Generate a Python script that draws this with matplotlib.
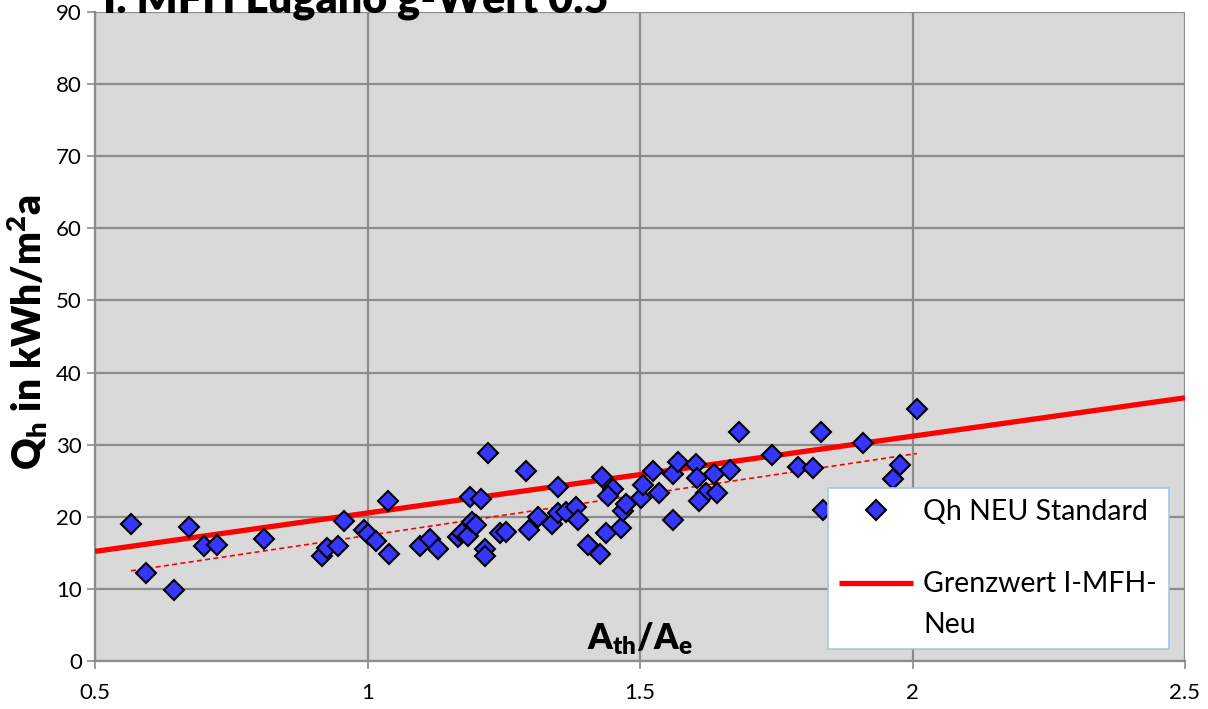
import numpy as np
import matplotlib
matplotlib.use("Agg")
import matplotlib.pyplot as plt
from matplotlib.legend_handler import HandlerLine2D

plt.rcParams["font.family"] = ["Lato", "DejaVu Sans"]
plt.rcParams["mathtext.fontset"] = "custom"
plt.rcParams["mathtext.rm"] = "Lato"
plt.rcParams["mathtext.bf"] = "Lato:weight=heavy"
plt.rcParams["mathtext.it"] = "Lato:italic"

# ----------------------------
# Data
# ----------------------------
ath_ae = [
    0.566, 0.594, 0.645, 0.672, 0.700, 0.724, 0.810, 0.917, 0.926, 0.946,
    0.957, 0.994, 1.000, 1.016, 1.039, 1.038, 1.096, 1.115, 1.129, 1.166,
    1.173, 1.184, 1.188, 1.192, 1.199, 1.208, 1.216, 1.216, 1.221, 1.243,
    1.254, 1.291, 1.296, 1.313, 1.339, 1.350, 1.349, 1.365, 1.383, 1.386,
    1.405, 1.427, 1.430, 1.451, 1.441, 1.438, 1.465, 1.469, 1.475, 1.501,
    1.505, 1.524, 1.535, 1.560, 1.569, 1.560, 1.603, 1.604, 1.635, 1.621,
    1.609, 1.641, 1.665, 1.682, 1.742, 1.790, 1.817, 1.832, 1.836, 1.910,
    1.965, 1.977, 2.008,
]
qh = [
    19.0, 12.2, 9.8, 18.6, 16.0, 16.1, 16.9, 14.6, 15.7, 16.0,
    19.4, 18.2, 17.6, 16.6, 14.8, 22.2, 16.0, 16.9, 15.5, 17.2,
    17.8, 17.3, 22.7, 19.3, 18.8, 22.5, 15.5, 14.6, 28.8, 17.8,
    17.9, 26.4, 18.2, 20.0, 19.0, 24.1, 20.5, 20.7, 21.4, 19.6,
    16.1, 14.9, 25.5, 23.8, 22.9, 17.7, 18.5, 20.8, 21.8, 22.6,
    24.4, 26.3, 23.3, 25.9, 27.6, 19.5, 27.3, 25.4, 26.0, 23.3,
    22.2, 23.3, 26.5, 31.8, 28.6, 26.9, 26.7, 31.8, 20.9, 30.2,
    25.3, 27.2, 35.0,
]

# limit line "Grenzwert I-MFH-Neu"
limit_x = [0.5, 2.5]
limit_y = [15.2, 36.5]

x = np.array(ath_ae)
y = np.array(qh)

# linear trendline over the data range (Excel style)
slope, icpt = np.polyfit(x, y, 1)
trend_x = np.array([x.min(), x.max()])
trend_y = slope * trend_x + icpt


class HandlerLineTop(HandlerLine2D):
    """Put the line handle next to the first row of a two-line label."""
    def create_artists(self, legend, orig_handle, xdescent, ydescent,
                       width, height, fontsize, trans):
        arts = super().create_artists(legend, orig_handle, xdescent, ydescent,
                                      width, height, fontsize, trans)
        for a in arts:
            a.set_ydata(np.asarray(a.get_ydata()) + 0.75 * fontsize)
        return arts


# ----------------------------
# Plot
# ----------------------------
fig = plt.figure(figsize=(12.08, 7.09), dpi=100)
ax = fig.add_axes([95 / 1208, 1 - 661 / 709, 1090 / 1208, 649 / 709])
ax.set_facecolor("#d9d9d9")

(line_lim,) = ax.plot(limit_x, limit_y, color="#ff0000", lw=3.8,
                      solid_capstyle="butt", label="Grenzwert I-MFH-\nNeu", zorder=3)
ax.plot(trend_x, trend_y, color="#ff0000", lw=1.2, ls=(0, (3, 2)), zorder=3)
(pts,) = ax.plot(x, y, ls="none", marker="D", ms=10, mfc="#3636ff",
                 mec="black", mew=1.5, label="Qh NEU Standard", zorder=4)

ax.set_xlim(0.5, 2.5)
ax.set_ylim(0, 90)
ax.set_xticks([0.5, 1, 1.5, 2, 2.5])
ax.set_xticklabels(["0.5", "1", "1.5", "2", "2.5"])
ax.set_yticks(np.arange(0, 91, 10))
ax.grid(True, color="#8c8c8c", lw=1.6)
ax.set_axisbelow(True)
for side in ["top", "right"]:
    ax.spines[side].set_visible(False)
for side in ["left", "bottom"]:
    ax.spines[side].set_color("#8c8c8c")
    ax.spines[side].set_linewidth(1.6)
ax.tick_params(axis="both", labelsize=16, color="#8c8c8c", length=6, width=1.2)
ax.tick_params(axis="x", pad=10)

ax.set_xlabel(r"$\mathbf{A_{th}/A_{e}}$", fontsize=25)
ax.xaxis.set_label_coords(0.5, 0.062)
ax.set_ylabel(r"$\mathbf{Q_{h}\ in\ kWh/m^{2}a}$", fontsize=28)
ax.yaxis.set_label_coords(-0.041, 0.507)

fig.text(103 / 1208, 1 - 13 / 709, "I. MFH Lugano g-Wert 0.5",
         fontsize=31, fontweight="heavy", ha="left", va="baseline")

leg = ax.legend(handles=[pts, line_lim], loc="upper left",
                bbox_to_anchor=((828 - 95) / 1090, (661 - 488) / 649),
                handler_map={line_lim: HandlerLineTop()},
                fontsize=20.5, frameon=True, fancybox=False, framealpha=1,
                handlelength=2.6, labelspacing=1.6, borderpad=0.4,
                handletextpad=0.35, borderaxespad=0)
for t in leg.get_texts():
    t.set_linespacing(1.7)
leg.get_frame().set_edgecolor("#a9c3e6")
leg.get_frame().set_linewidth(1.2)
leg.set_zorder(5)

fig.savefig("out.png", dpi=100)
